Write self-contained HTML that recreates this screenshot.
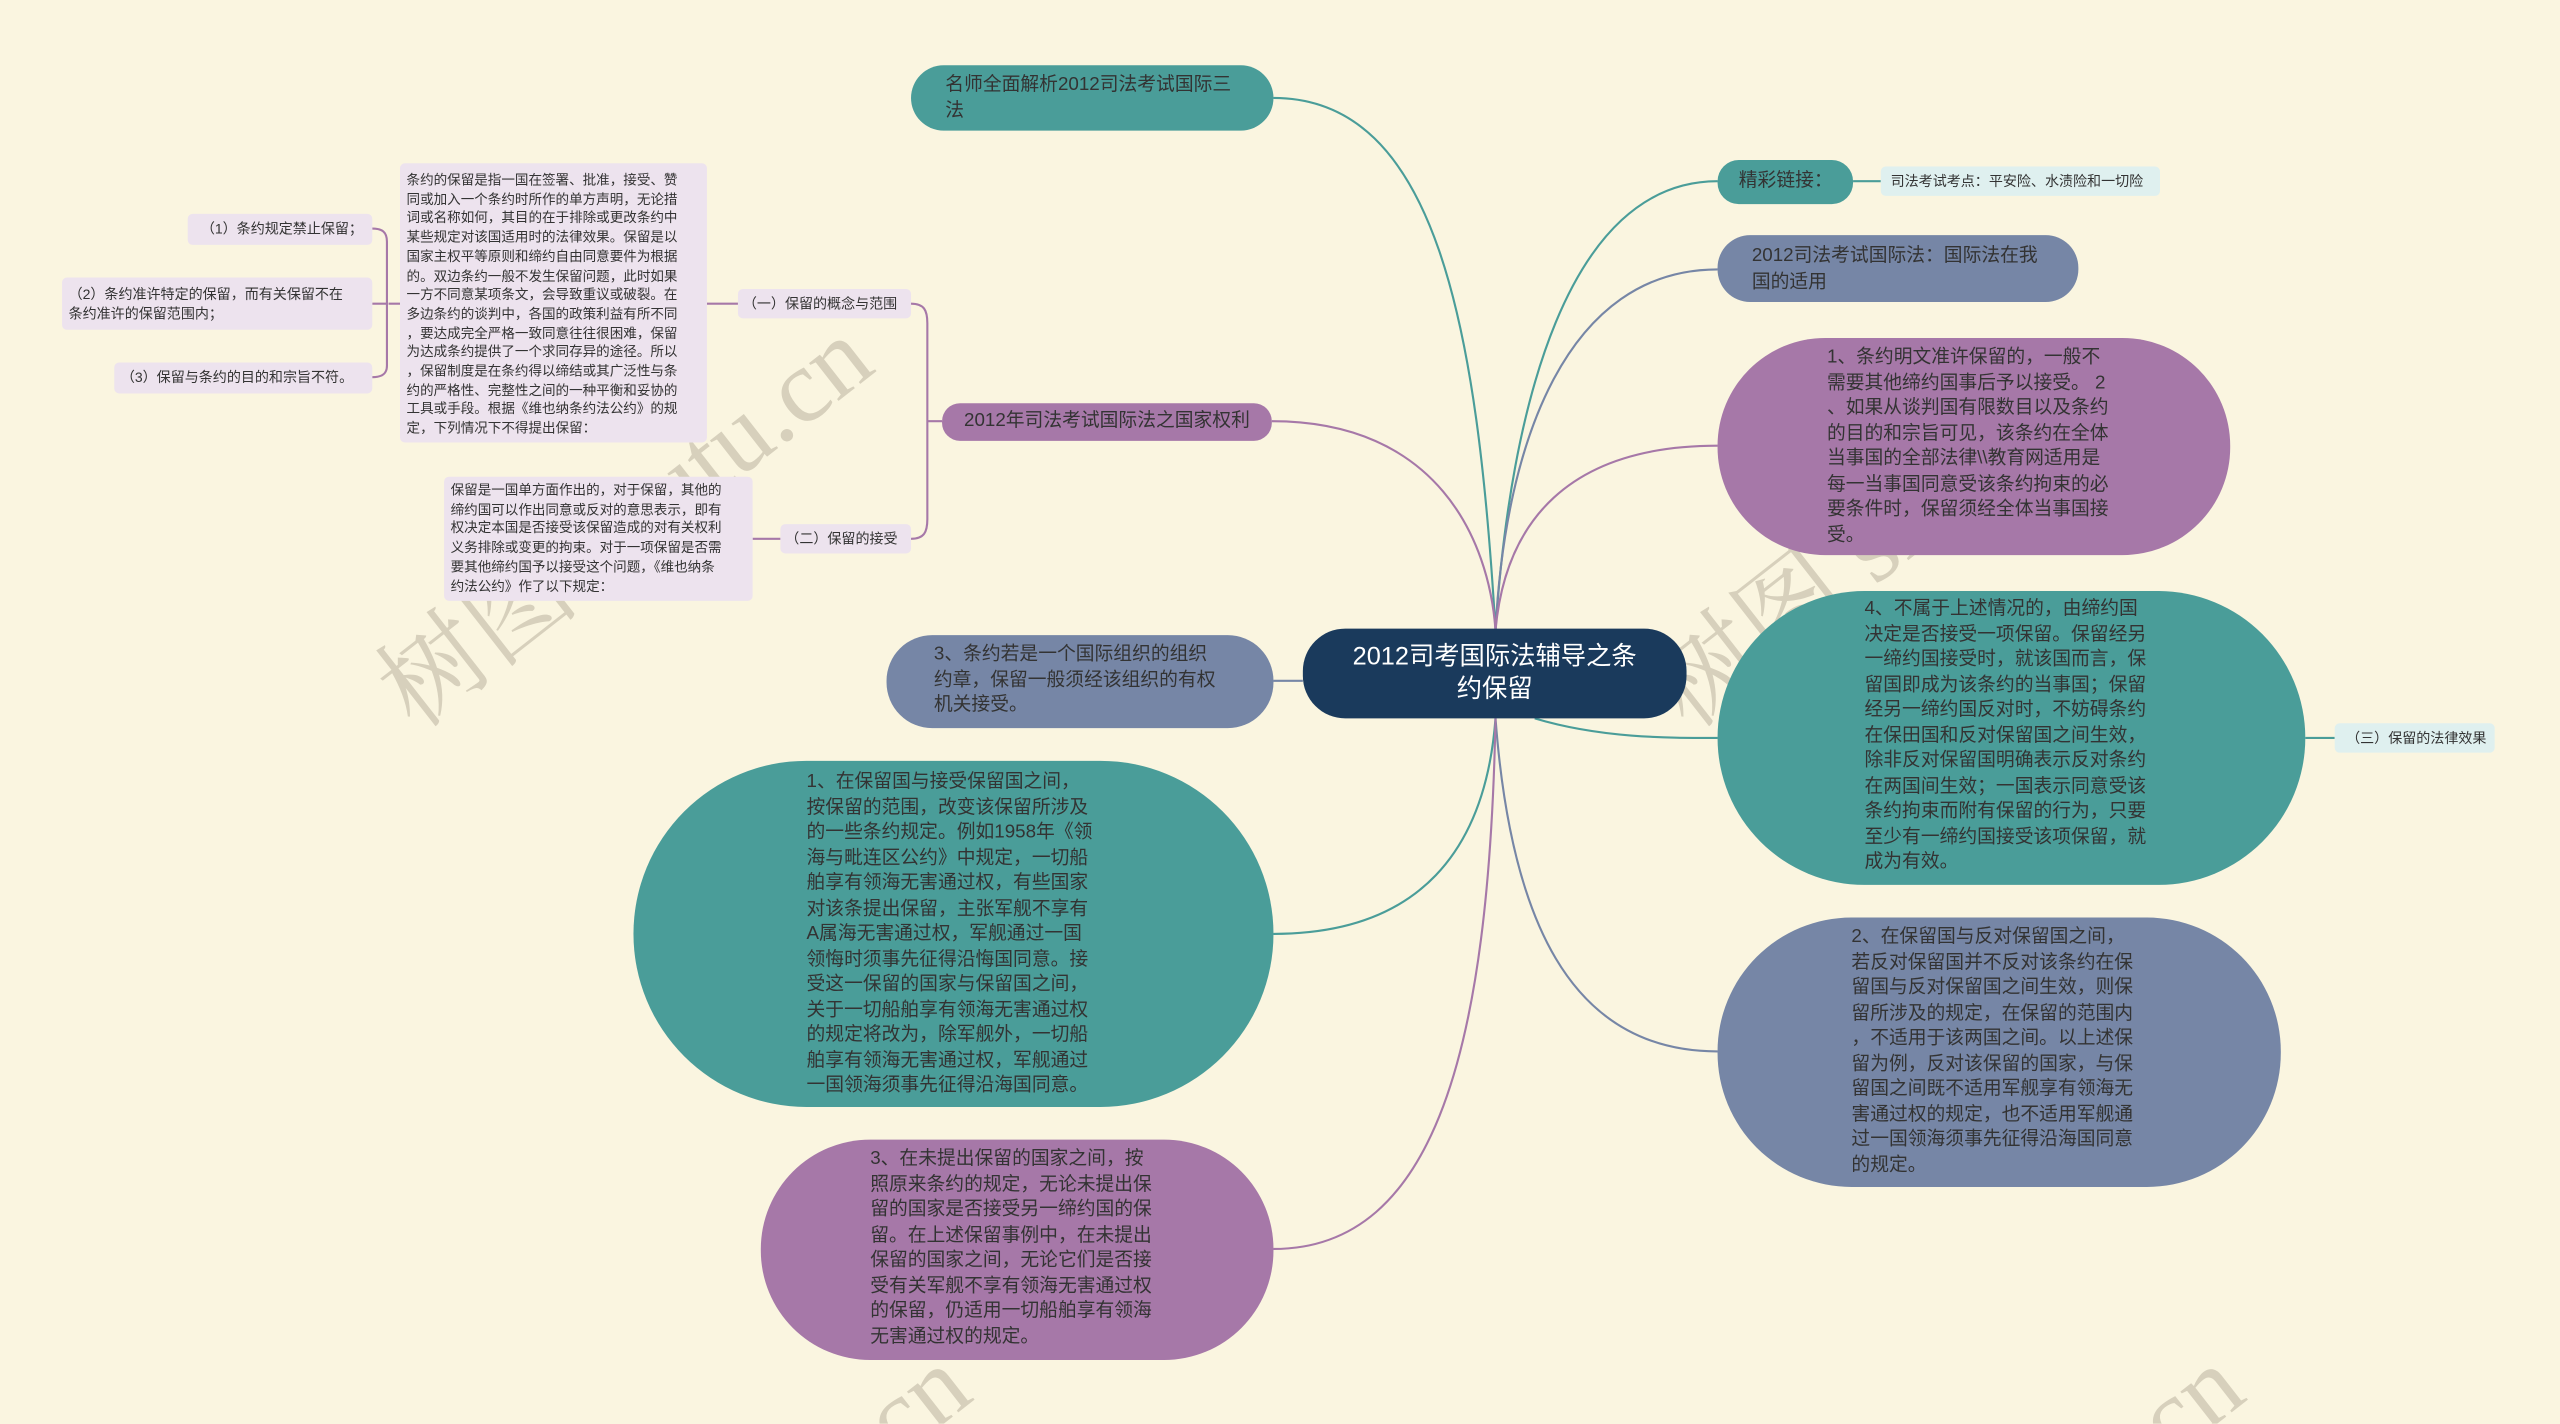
<!DOCTYPE html>
<html><head><meta charset="utf-8"><style>
html,body{margin:0;padding:0;background:#faf5e0;overflow:hidden;width:2560px;height:1424px}
#w{position:absolute;left:0;top:0;width:1568px;height:872px;overflow:hidden;transform:scale(1.632653);transform-origin:0 0;background:#faf5e0;font-family:"Liberation Sans","Noto Sans CJK SC",sans-serif}
.n{position:absolute;box-sizing:border-box;color:#333;}
.wm{position:absolute;color:rgba(150,140,120,0.35);font-family:"Liberation Serif","Noto Serif CJK SC",serif;font-size:64px;transform:rotate(-38deg);white-space:nowrap}
</style></head><body><div id="w">
<svg width="1568" height="872" style="position:absolute;left:0;top:0" fill="none" stroke-width="1.3">
<path d="M780,60 C880,60 905,200 916,386" stroke="#4a9d99"/>
<path d="M1052,111 C960,111 925,250 916,386" stroke="#4a9d99"/>
<path d="M1052,165 C960,165 922,270 916,386" stroke="#7686a6"/>
<path d="M1052,273 C960,273 922,320 916,386" stroke="#a678a8"/>
<path d="M779,258 C880,258 912,330 916,386" stroke="#a678a8"/>
<path d="M780,417 L798,417" stroke="#7686a6"/>
<path d="M940,440 C980,452 1020,452 1052,452" stroke="#4a9d99"/>
<path d="M916,440 C925,560 960,644 1052,644" stroke="#7686a6"/>
<path d="M916,440 C910,520 870,572 780,572" stroke="#4a9d99"/>
<path d="M916,440 C912,640 880,765 780,765" stroke="#a678a8"/>
<path d="M1135,111 L1152,111" stroke="#4a9d99"/>
<path d="M1412,452 L1430,452" stroke="#4a9d99"/>
<path d="M577,258 L568,258 M558,186 C566,186 568,190 568,198 L568,318 C568,326 566,330 558,330" stroke="#a678a8"/>
<path d="M452,186 L433,186 M478,330 L461,330" stroke="#a678a8"/>
<path d="M245,186 L238,186 M228,140 C234,140 237,142 237,148 L237,224 C237,229 234,231 228,231 M228,186 L237,186" stroke="#a678a8"/>
</svg>
<div class="wm" style="left:200px;top:270px">树图 shutu.cn</div>
<div class="wm" style="left:980px;top:270px">树图 shutu.cn</div>
<div class="wm" style="left:260px;top:900px">树图 shutu.cn</div>
<div class="wm" style="left:1040px;top:900px">树图 shutu.cn</div>

<div class="n" style="left:798px;top:385px;width:235px;height:55px;background:#1a3a5c;border-radius:26px;color:#fff;font-size:15.5px;line-height:20px;text-align:center;padding-top:8px">2012司考国际法辅导之条<br>约保留</div>

<div class="n" style="left:558px;top:40px;width:222px;height:40px;background:#4a9d99;border-radius:20px;font-size:11.5px;line-height:15.5px;padding:5px 0 0 21px">名师全面解析2012司法考试国际三<br>法</div>

<div class="n" style="left:1052px;top:98px;width:83px;height:27px;background:#4a9d99;border-radius:13px;font-size:11.5px;line-height:27px;padding-left:13px">精彩链接：</div>
<div class="n" style="left:1152px;top:102px;width:171px;height:18px;background:#dff0ef;border-radius:3px;font-size:8.6px;line-height:18px;padding-left:6px">司法考试考点：平安险、水渍险和一切险</div>

<div class="n" style="left:1052px;top:144px;width:221px;height:41px;background:#7686a6;border-radius:20px;font-size:11.5px;line-height:15.5px;padding:6px 0 0 21px">2012司法考试国际法：国际法在我<br>国的适用</div>

<div class="n" style="left:1052px;top:207px;width:314px;height:133px;background:#a678a8;border-radius:66px;font-size:11.5px;line-height:15.5px;padding:5px 0 0 67px">1、条约明文准许保留的，一般不<br>需要其他缔约国事后予以接受。 2<br>、如果从谈判国有限数目以及条约<br>的目的和宗旨可见，该条约在全体<br>当事国的全部法律\\教育网适用是<br>每一当事国同意受该条约拘束的必<br>要条件时，保留须经全体当事国接<br>受。</div>

<div class="n" style="left:1052px;top:362px;width:360px;height:180px;background:#4a9d99;border-radius:90px;font-size:11.5px;line-height:15.5px;padding:4px 0 0 90px">4、不属于上述情况的，由缔约国<br>决定是否接受一项保留。保留经另<br>一缔约国接受时，就该国而言，保<br>留国即成为该条约的当事国；保留<br>经另一缔约国反对时，不妨碍条约<br>在保田国和反对保留国之间生效，<br>除非反对保留国明确表示反对条约<br>在两国间生效；一国表示同意受该<br>条约拘束而附有保留的行为，只要<br>至少有一缔约国接受该项保留，就<br>成为有效。</div>
<div class="n" style="left:1430px;top:443px;width:98px;height:18px;background:#dff0ef;border-radius:3px;font-size:8.6px;line-height:18px;padding-left:7px">（三）保留的法律效果</div>

<div class="n" style="left:1052px;top:562px;width:345px;height:165px;background:#7686a6;border-radius:82px;font-size:11.5px;line-height:15.5px;padding:5px 0 0 82px">2、在保留国与反对保留国之间，<br>若反对保留国并不反对该条约在保<br>留国与反对保留国之间生效，则保<br>留所涉及的规定，在保留的范围内<br>，不适用于该两国之间。以上述保<br>留为例，反对该保留的国家，与保<br>留国之间既不适用军舰享有领海无<br>害通过权的规定，也不适用军舰通<br>过一国领海须事先征得沿海国同意<br>的规定。</div>

<div class="n" style="left:577px;top:247px;width:202px;height:23px;background:#a678a8;border-radius:11px;font-size:11.5px;line-height:23px;text-align:center">2012年司法考试国际法之国家权利</div>
<div class="n" style="left:452px;top:177px;width:106px;height:18px;background:#ede3ee;border-radius:3px;font-size:8.6px;line-height:18px;padding-left:3px">（一）保留的概念与范围</div>
<div class="n" style="left:478px;top:321px;width:80px;height:18px;background:#ede3ee;border-radius:3px;font-size:8.6px;line-height:18px;padding-left:3px">（二）保留的接受</div>
<div class="n" style="left:245px;top:100px;width:188px;height:171px;background:#ede3ee;border-radius:3px;font-size:8.3px;line-height:11.7px;padding:5px 0 0 4px">条约的保留是指一国在签署、批准，接受、赞<br>同或加入一个条约时所作的单方声明，无论措<br>词或名称如何，其目的在于排除或更改条约中<br>某些规定对该国适用时的法律效果。保留是以<br>国家主权平等原则和缔约自由同意要件为根据<br>的。双边条约一般不发生保留问题，此时如果<br>一方不同意某项条文，会导致重议或破裂。在<br>多边条约的谈判中，各国的政策利益有所不同<br>，要达成完全严格一致同意往往很困难，保留<br>为达成条约提供了一个求同存异的途径。所以<br>，保留制度是在条约得以缔结或其广泛性与条<br>约的严格性、完整性之间的一种平衡和妥协的<br>工具或手段。根据《维也纳条约法公约》的规<br>定，下列情况下不得提出保留：</div>
<div class="n" style="left:272px;top:292px;width:189px;height:76px;background:#ede3ee;border-radius:3px;font-size:8.3px;line-height:11.7px;padding:3px 0 0 4px">保留是一国单方面作出的，对于保留，其他的<br>缔约国可以作出同意或反对的意思表示，即有<br>权决定本国是否接受该保留造成的对有关权利<br>义务排除或变更的拘束。对于一项保留是否需<br>要其他缔约国予以接受这个问题，《维也纳条<br>约法公约》作了以下规定：</div>
<div class="n" style="left:115px;top:131px;width:113px;height:19px;background:#ede3ee;border-radius:3px;font-size:8.6px;line-height:19px;padding-left:8px">（1）条约规定禁止保留；</div>
<div class="n" style="left:38px;top:170px;width:190px;height:32px;background:#ede3ee;border-radius:3px;font-size:8.6px;line-height:12px;padding:4px 0 0 4px">（2）条约准许特定的保留，而有关保留不在<br>条约准许的保留范围内；</div>
<div class="n" style="left:70px;top:222px;width:158px;height:19px;background:#ede3ee;border-radius:3px;font-size:8.6px;line-height:19px;padding-left:4px">（3）保留与条约的目的和宗旨不符。</div>

<div class="n" style="left:543px;top:389px;width:237px;height:57px;background:#7686a6;border-radius:28px;font-size:11.5px;line-height:15.5px;padding:5px 0 0 29px">3、条约若是一个国际组织的组织<br>约章，保留一般须经该组织的有权<br>机关接受。</div>

<div class="n" style="left:388px;top:466px;width:392px;height:212px;background:#4a9d99;border-radius:106px;font-size:11.5px;line-height:15.5px;padding:6px 0 0 106px">1、在保留国与接受保留国之间，<br>按保留的范围，改变该保留所涉及<br>的一些条约规定。例如1958年《领<br>海与毗连区公约》中规定，一切船<br>舶享有领海无害通过权，有些国家<br>对该条提出保留，主张军舰不享有<br>A属海无害通过权，军舰通过一国<br>领悔时须事先征得沿悔国同意。接<br>受这一保留的国家与保留国之间，<br>关于一切船舶享有领海无害通过权<br>的规定将改为，除军舰外，一切船<br>舶享有领海无害通过权，军舰通过<br>一国领海须事先征得沿海国同意。</div>

<div class="n" style="left:466px;top:698px;width:314px;height:135px;background:#a678a8;border-radius:67px;font-size:11.5px;line-height:15.5px;padding:5px 0 0 67px">3、在未提出保留的国家之间，按<br>照原来条约的规定，无论未提出保<br>留的国家是否接受另一缔约国的保<br>留。在上述保留事例中，在未提出<br>保留的国家之间，无论它们是否接<br>受有关军舰不享有领海无害通过权<br>的保留，仍适用一切船舶享有领海<br>无害通过权的规定。</div>
</div></body></html>
